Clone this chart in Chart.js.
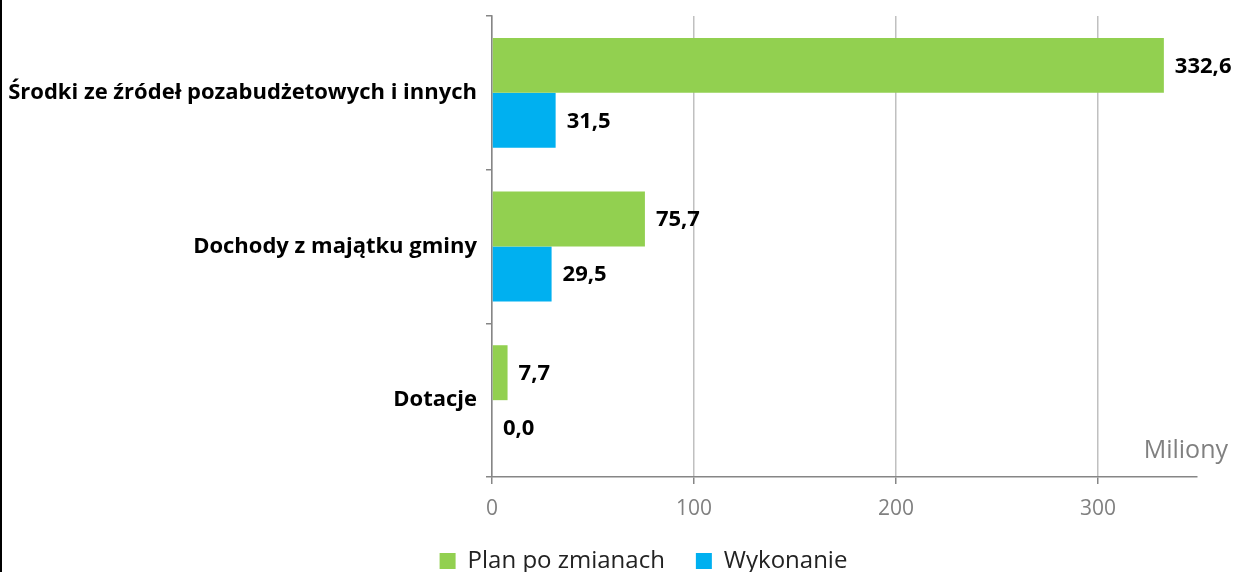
<!DOCTYPE html>
<html>
<head>
<meta charset="utf-8">
<script src="https://cdn.jsdelivr.net/npm/chart.js@4/dist/chart.umd.min.js"></script>
<style>
  html, body { margin: 0; padding: 0; background: #fff; }
  #wrap { width: 1237px; height: 572px; position: relative; }
  #edge { position: absolute; left: 0; top: 0; width: 2px; height: 572px; background: #000; }
  canvas { display: block; }
</style>
</head>
<body>
<div id="wrap"><canvas id="chart" width="1237" height="572"></canvas><div id="edge"></div></div>
<script>
const categories = ["Środki ze źródeł pozabudżetowych i innych", "Dochody z majątku gminy", "Dotacje"];
const planValues = [332.6, 75.7, 7.7];
const wykonanieValues = [31.5, 29.5, 0.0];
const seriesNames = ["Plan po zmianach", "Wykonanie"];
const xTicks = [0, 100, 200, 300];
const unitLabel = "Miliony";

const fontFamily = "'Open Sans', 'Noto Sans', sans-serif";

// labels next to bar ends, values with comma decimal
const valueLabels = {
    id: 'valueLabels',
    afterDatasetsDraw(chart) {
        const ctx = chart.ctx;
        ctx.save();
        ctx.font = "bold 22px " + fontFamily;
        ctx.fillStyle = "#000";
        ctx.textAlign = "left";
        ctx.textBaseline = "middle";
        chart.data.datasets.forEach((ds, i) => {
            const meta = chart.getDatasetMeta(i);
            meta.data.forEach((bar, j) => {
                const txt = ds.data[j].toFixed(1).replace('.', ',');
                ctx.fillText(txt, bar.x + 11, bar.y + 1);
            });
        });
        ctx.restore();
    }
};

const unitText = {
    id: 'unitText',
    afterDraw(chart) {
        const ctx = chart.ctx;
        const area = chart.chartArea;
        ctx.save();
        ctx.font = "25px " + fontFamily;
        ctx.fillStyle = "#808080";
        ctx.textAlign = "right";
        ctx.textBaseline = "middle";
        ctx.fillText(unitLabel, area.right + 31, area.bottom - 26);
        ctx.restore();
    }
};

// legend in the original sits a bit right of centre
const legendShift = {
    id: 'legendShift',
    afterLayout(chart) {
        chart.legend.left += 45;
        chart.legend.right += 45;
    }
};

const chart = new Chart(document.getElementById("chart"), {
    type: 'bar',
    data: {
        labels: categories,
        datasets: [
            { label: seriesNames[0], data: planValues, backgroundColor: '#92D050' },
            { label: seriesNames[1], data: wykonanieValues, backgroundColor: '#00B0F0' }
        ]
    },
    options: {
        indexAxis: 'y',
        responsive: false,
        animation: false,
        layout: { padding: { top: 16, right: 40, bottom: 0, left: 0 } },
        datasets: { bar: { barPercentage: 1, categoryPercentage: 0.715 } },
        scales: {
            x: {
                min: 0,
                max: 349,
                afterBuildTicks(axis) {
                    axis.ticks = xTicks.map(v => ({ value: v }));
                },
                afterFit(axis) { axis.height = 41; },
                grid: { color: '#c0c0c0', tickColor: '#868686', tickLength: 7, lineWidth: 1.5 },
                border: { color: '#868686', width: 1.5 },
                ticks: { color: '#808080', font: { family: fontFamily, size: 21 }, padding: 12 }
            },
            y: {
                afterFit(axis) {
                    axis.width = 492;
                    axis.paddingTop = 0;
                    axis.paddingBottom = 0;
                },
                grid: { drawOnChartArea: false, offset: true, tickColor: '#868686', tickLength: 6, lineWidth: 1.5 },
                border: { color: '#868686', width: 1.5 },
                ticks: { color: '#000', font: { family: fontFamily, size: 22, weight: 'bold' }, padding: 9 }
            }
        },
        plugins: {
            legend: {
                position: 'bottom',
                maxHeight: 54,
                labels: {
                    boxWidth: 16, boxHeight: 16, padding: 31,
                    color: '#222',
                    font: { family: fontFamily, size: 24 }
                }
            },
            tooltip: { enabled: false }
        }
    },
    plugins: [valueLabels, unitText, legendShift]
});
</script>
</body>
</html>
